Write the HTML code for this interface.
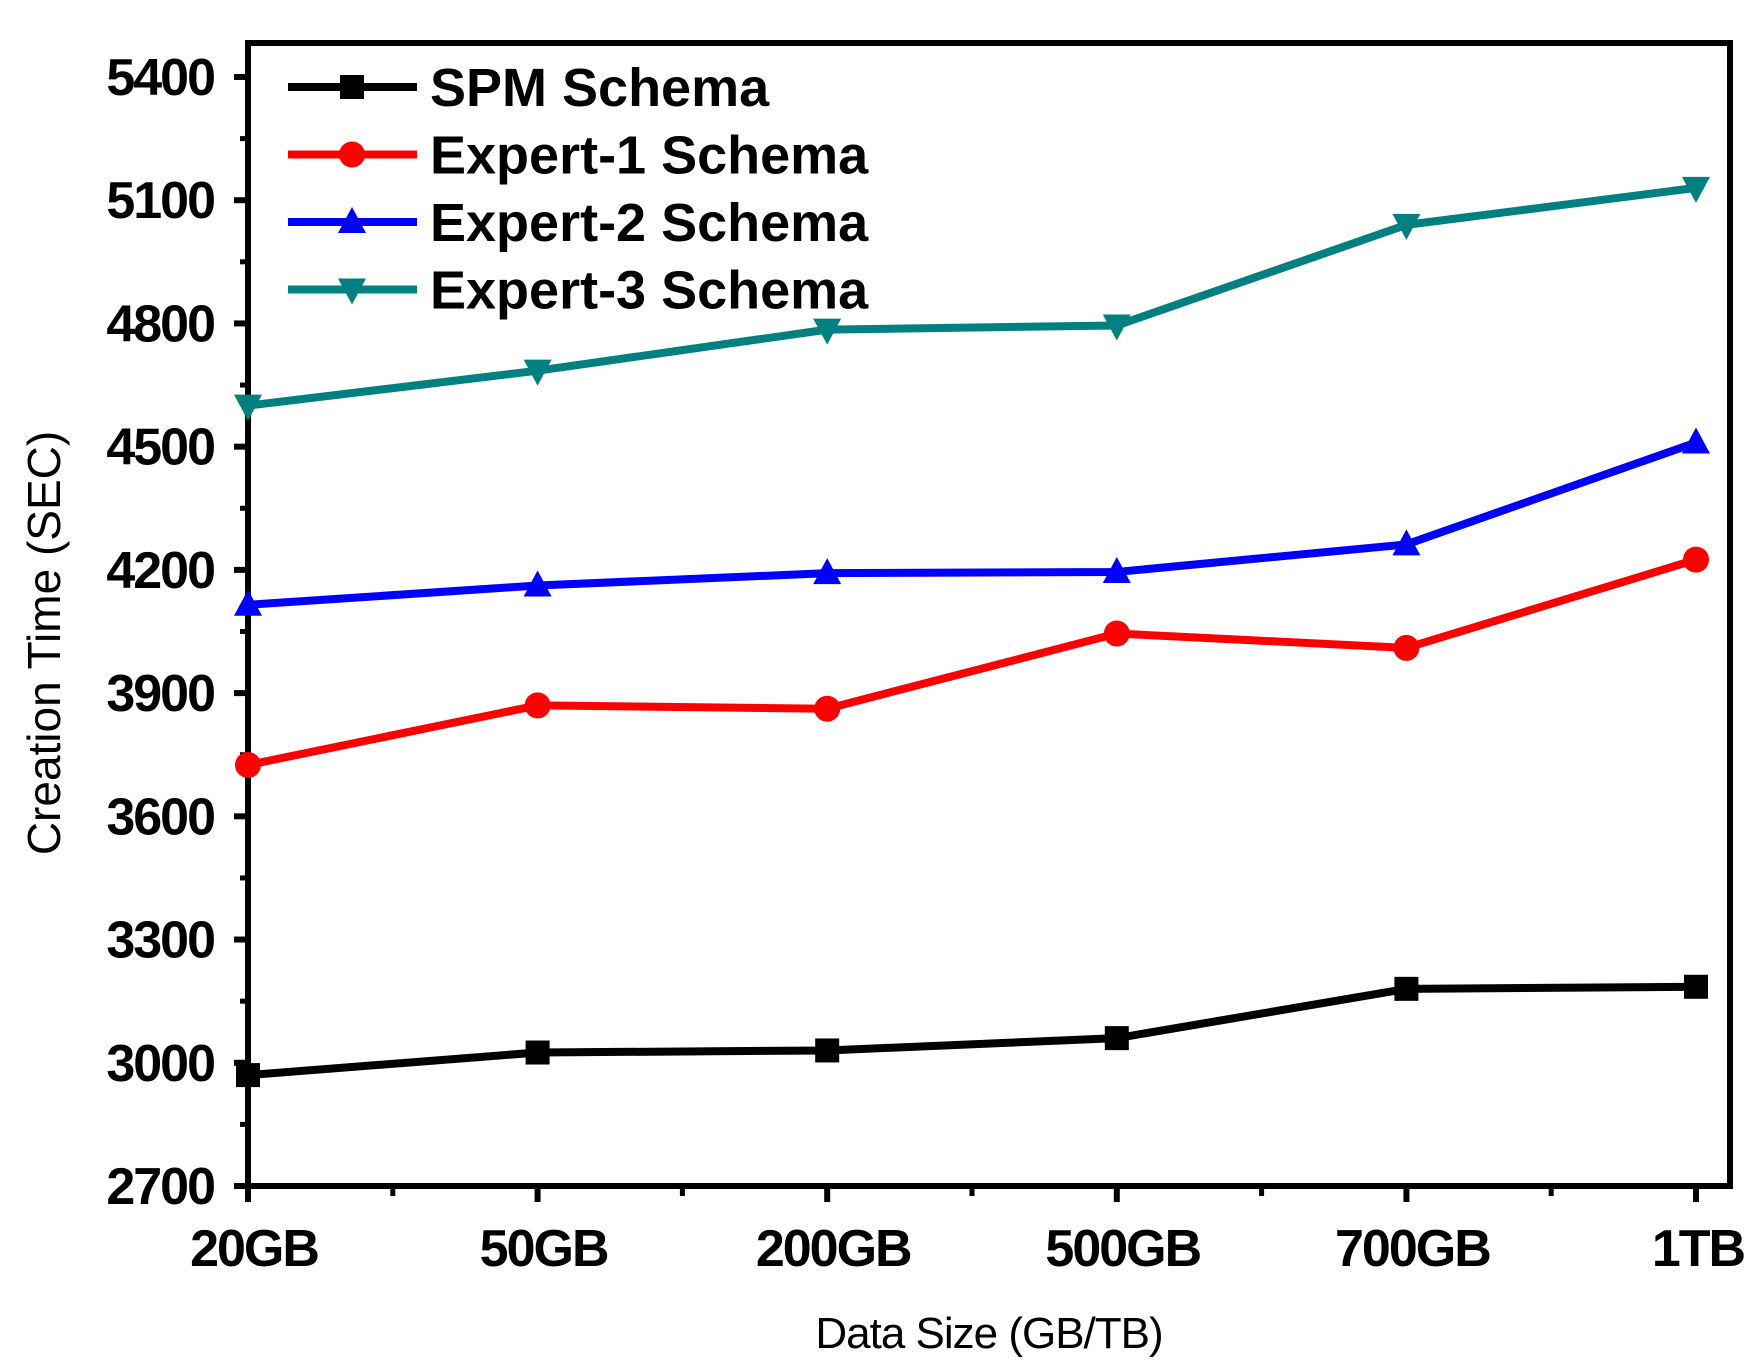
<!DOCTYPE html>
<html><head><meta charset="utf-8"><style>
html,body{margin:0;padding:0;background:#fff;}
svg{display:block;font-family:"Liberation Sans",Arial,sans-serif;}
</style></head><body>
<svg id="chart" width="1760" height="1371" viewBox="0 0 1760 1371">
<rect x="248" y="43" width="1482" height="1143" fill="none" stroke="#000" stroke-width="6"/>
<g id="axes"></g>
<g id="series"></g>
<g id="legend"></g>
<text x="989" y="1348" font-size="44" text-anchor="middle" letter-spacing="-1">Data Size (GB/TB)</text>
<text transform="translate(60,643) rotate(-90)" font-size="46" text-anchor="middle">Creation Time (SEC)</text>
</svg>
<script>
const categories = ["20GB","50GB","200GB","500GB","700GB","1TB"];
const yTicks = [2700,3000,3300,3600,3900,4200,4500,4800,5100,5400];
const spm = [2970,3025,3030,3060,3180,3185];
const expert1 = [3725,3870,3862,4045,4010,4225];
const expert2 = [4115,4162,4192,4195,4262,4510];
const expert3 = [4600,4685,4785,4795,5040,5130];
const seriesNames = ["SPM Schema","Expert-1 Schema","Expert-2 Schema","Expert-3 Schema"];

const NS="http://www.w3.org/2000/svg";
function X(i){return 248+i*(1696-248)/(categories.length-1);}
function Y(v){return 1186-(v-2700)*(1186-77)/(5400-2700);}
function mk(tag,attrs,parent){const e=document.createElementNS(NS,tag);for(const k in attrs)e.setAttribute(k,attrs[k]);parent.appendChild(e);return e;}
const axes=document.getElementById('axes');
yTicks.forEach((v,i)=>{
  const y=Y(v);
  const t=mk('line',{x1:234,x2:248,y1:y,y2:y,stroke:'#000','stroke-width':6},axes);
  
  
  const l=mk('text',{x:214,y:y+18,'font-size':52,'font-weight':'bold','text-anchor':'end','letter-spacing':-2},axes);
  l.textContent=v;
  
  
  if(i<yTicks.length-1){
    const ym=Y(v+150);
    const m=mk('line',{x1:240,x2:248,y1:ym,y2:ym,stroke:'#000','stroke-width':5},axes);
    
    
  }
});
categories.forEach((c,i)=>{
  const x=X(i);
  const t=mk('line',{x1:x,x2:x,y1:1186,y2:1202,stroke:'#000','stroke-width':6},axes);
  
  
  const l=mk('text',{x:x+(i==categories.length-1?2:6),y:1266,'font-size':52,'font-weight':'bold','text-anchor':'middle','letter-spacing':-2},axes);
  l.textContent=c;
  
  
  if(i<categories.length-1){
    const xm=(x+X(i+1))/2;
    const m=mk('line',{x1:xm,x2:xm,y1:1186,y2:1196,stroke:'#000','stroke-width':5},axes);
    
    
  }
});
function marker(kind,x,y,color,parent){
  let e;
  if(kind==='sq') e=mk('rect',{x:x-12,y:y-12,width:24,height:24,fill:color},parent);
  else if(kind==='ci') e=mk('circle',{cx:x,cy:y,r:13,fill:color},parent);
  else if(kind==='up') e=mk('polygon',{points:`${x},${y-15} ${x-14},${y+11} ${x+14},${y+11}`,fill:color},parent);
  else e=mk('polygon',{points:`${x},${y+15} ${x-14},${y-11} ${x+14},${y-11}`,fill:color},parent);
  return e;
}
const sg=document.getElementById('series');
const data=[spm,expert1,expert2,expert3];
const colors=["#000000","#ff0000","#0000ff","#008080"];
const kinds=["sq","ci","up","dn"];
const keys=["spm","expert-1","expert-2","expert-3"];
data.forEach((vals,s)=>{
  const pts=vals.map((v,i)=>X(i)+','+Y(v)).join(' ');
  const pl=mk('polyline',{points:pts,fill:'none',stroke:colors[s],'stroke-width':8,'stroke-linejoin':'round'},sg);
  
  
  vals.forEach((v,i)=>{
    const m=marker(kinds[s],X(i),Y(v),colors[s],sg);
    
    
  });
});
const lg=document.getElementById('legend');
seriesNames.forEach((n,s)=>{
  const y=87+s*67.5;
  const g=mk('g',{},lg);
  
  
  mk('line',{x1:288,x2:417,y1:y,y2:y,stroke:colors[s],'stroke-width':8},g);
  marker(kinds[s],352,y,colors[s],g);
  const t=mk('text',{x:430,y:y+19,'font-size':54,'font-weight':'bold'},g);
  t.textContent=n;
});
</script>
</body></html>
